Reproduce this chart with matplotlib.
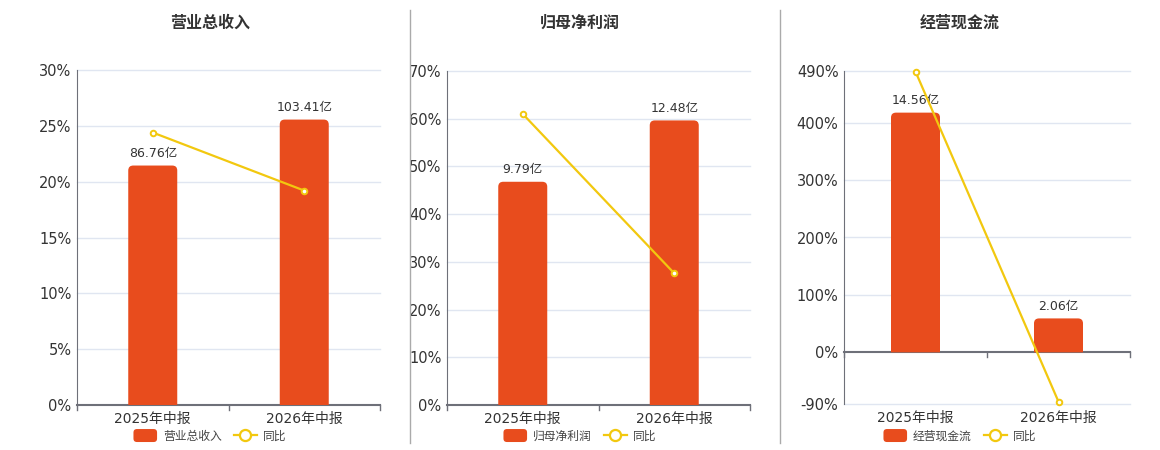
import matplotlib
matplotlib.use("Agg")
import matplotlib.pyplot as plt
import numpy as np
from matplotlib.legend_handler import HandlerPatch
from matplotlib.lines import Line2D
from matplotlib.patches import FancyBboxPatch, Patch, PathPatch
from matplotlib.path import Path
from matplotlib.ticker import FuncFormatter

plt.rcParams["font.family"] = ["DejaVu Sans", "Noto Sans CJK SC"]

# Data
categories = ["2025年中报", "2026年中报"]
titles = ["营业总收入", "归母净利润", "经营现金流"]
bar_values = [[86.76, 103.41], [9.79, 12.48], [14.56, 2.06]]   # 亿
yoy_values = [[24.4, 19.2], [61.0, 27.6], [489.0, -86.0]]     # %
pct_limits = [(0, 30), (0, 70), (-90, 490)]
pct_ticks = [
    [0, 5, 10, 15, 20, 25, 30],
    [0, 10, 20, 30, 40, 50, 60, 70],
    [-90, 0, 100, 200, 300, 400, 490],
]

BAR_COLOR = "#E84C1D"
LINE_COLOR = "#F2C80F"
TEXT_COLOR = "#333333"
AXIS_COLOR = "#6E7079"
GRID_COLOR = "#E0E6F1"

FIG_W, FIG_H = 1160, 450
# axes boxes in pixels: left, right, top, bottom
boxes = [(77, 380, 70, 405), (447, 750, 71, 405), (844, 1130, 71, 404)]
panel_centers = [210, 580, 960]
BAR_PX = 49
RADIUS_PX = 5


def rounded_bar(ax, x, height, width, w_px, h_px):
    x0, x1 = ax.get_xlim()
    y0, y1 = ax.get_ylim()
    rx = RADIUS_PX * (x1 - x0) / w_px
    ry = RADIUS_PX * (y1 - y0) / h_px
    xl, xr = x - width / 2, x + width / 2
    verts = [
        (xl, 0), (xl, height - ry), (xl, height), (xl + rx, height),
        (xr - rx, height), (xr, height), (xr, height - ry), (xr, 0), (xl, 0),
    ]
    codes = [
        Path.MOVETO, Path.LINETO, Path.CURVE3, Path.CURVE3,
        Path.LINETO, Path.CURVE3, Path.CURVE3, Path.LINETO, Path.CLOSEPOLY,
    ]
    ax.add_patch(PathPatch(Path(verts, codes), facecolor=BAR_COLOR,
                           edgecolor="none", zorder=2))


def legend_box(legend, orig_handle, xdescent, ydescent, width, height, fontsize):
    # a bit taller than the text line, rounded like the reference swatch
    h = fontsize * 1.1
    return FancyBboxPatch((-xdescent, -ydescent + (height - h) / 2), width, h,
                          boxstyle="round,pad=0,rounding_size=2.5")


fig = plt.figure(figsize=(FIG_W / 100, FIG_H / 100), dpi=100)
x = np.arange(len(categories))

for i in range(3):
    left, right, top, bottom = boxes[i]
    w_px, h_px = right - left, bottom - top
    rect = [left / FIG_W, 1 - bottom / FIG_H, w_px / FIG_W, h_px / FIG_H]

    # base axis: percent ticks, grid, spines
    ax = fig.add_axes(rect)
    lo, hi = pct_limits[i]
    ax.set_xlim(-0.5, 1.5)
    ax.set_ylim(lo, hi)
    ax.set_yticks(pct_ticks[i])
    ax.yaxis.set_major_formatter(FuncFormatter(lambda v, p: f"{v:.0f}%"))
    ax.tick_params(axis="y", length=0, pad=4, labelsize=10.5, labelcolor=TEXT_COLOR)
    for t in pct_ticks[i]:
        if t != 0:
            ax.axhline(t, color=GRID_COLOR, linewidth=1.0, zorder=0, clip_on=False)
    for side in ["top", "right", "bottom"]:
        ax.spines[side].set_visible(False)
    ax.spines["left"].set_color(AXIS_COLOR)
    ax.spines["left"].set_linewidth(0.8)
    ax.set_xticks([])
    ax.axhline(0, color=AXIS_COLOR, linewidth=1.5, zorder=1, clip_on=False)
    for b in [-0.5, 0.5, 1.5]:
        ax.plot([b, b], [0, -5 * (hi - lo) / h_px], color=AXIS_COLOR,
                linewidth=1.0, clip_on=False)
    for xi, cat in zip(x, categories):
        ax.text(xi, -0.042, cat, transform=ax.get_xaxis_transform(),
                ha="center", va="center", fontsize=10, color=TEXT_COLOR)

    # bar axis (hidden), zero aligned with the percent axis zero
    ax_bar = ax.twinx()
    bar_top = max(bar_values[i]) / 0.852
    ax_bar.set_ylim(bar_top * lo / hi, bar_top)
    ax_bar.set_xlim(-0.5, 1.5)
    ax_bar.axis("off")
    width = BAR_PX / (w_px / 2)
    for xi, v in zip(x, bar_values[i]):
        rounded_bar(ax_bar, xi, v, width, w_px, h_px)
        ax_bar.annotate(f"{v:.2f}亿", (xi, v), xytext=(0, 4), textcoords="offset points",
                        ha="center", va="bottom", fontsize=9, color=TEXT_COLOR)

    # line axis on top, same scale as percent axis
    ax_line = ax.twinx()
    ax_line.set_ylim(lo, hi)
    ax_line.set_xlim(-0.5, 1.5)
    ax_line.axis("off")
    ax_line.plot(x, yoy_values[i], color=LINE_COLOR, linewidth=1.6, marker="o",
                 markersize=4, markerfacecolor="white", markeredgecolor=LINE_COLOR,
                 markeredgewidth=1.4, clip_on=False)

    fig.text(panel_centers[i] / FIG_W, 1 - 23 / FIG_H, titles[i], ha="center", va="center",
             fontsize=11.5, fontweight="bold", color=TEXT_COLOR, family="Noto Sans CJK SC")

    handles = [
        Patch(facecolor=BAR_COLOR, edgecolor="none", label=titles[i]),
        Line2D([], [], color=LINE_COLOR, linewidth=1.6, marker="o", markersize=8,
               markerfacecolor="white", markeredgecolor=LINE_COLOR, markeredgewidth=1.6,
               label="同比"),
    ]
    fig.legend(handles=handles, loc="center", ncol=2, frameon=False,
               bbox_to_anchor=(panel_centers[i] / FIG_W, 1 - 436 / FIG_H),
               handlelength=2.0, handleheight=1.2, handletextpad=0.5,
               columnspacing=1.0, labelcolor="#444444",
               handler_map={Patch: HandlerPatch(patch_func=legend_box)},
               prop={"family": ["Noto Sans CJK SC"], "size": 8.5})

# panel dividers
for xd in [410, 780]:
    fig.add_artist(Line2D([xd / FIG_W, xd / FIG_W], [1 - 443 / FIG_H, 1 - 10 / FIG_H],
                          color="#AAAAAA", linewidth=1.0))

fig.savefig("out.png", dpi=100)
